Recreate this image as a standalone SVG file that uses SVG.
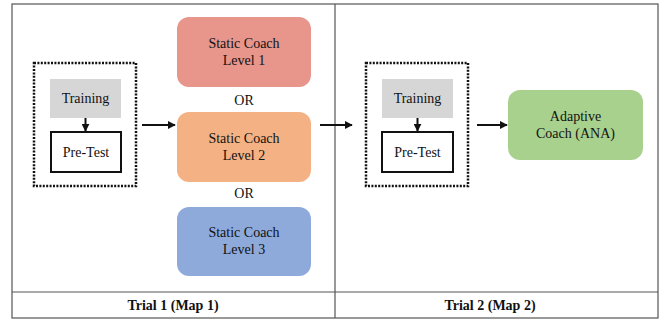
<svg xmlns="http://www.w3.org/2000/svg" width="670" height="320" viewBox="0 0 670 320">
<defs>
<style>
text{font-family:"Liberation Serif",Tinos,"Times New Roman",Times,"Noto Serif","DejaVu Serif",serif;font-size:14px;fill:#111;text-anchor:middle}
.b{font-weight:bold}
.frame{fill:none;stroke:#555;stroke-width:1.2}
.dot{fill:none;stroke:#111;stroke-width:2.5;stroke-dasharray:2 1.4}
.train{fill:#D6D6D6}
.pre{fill:#fff;stroke:#111;stroke-width:2}
.arr{stroke:#111;stroke-width:2;fill:none;marker-end:url(#ah)}
</style>
<marker id="ah" viewBox="0 0 10 10" refX="9" refY="5" markerWidth="4" markerHeight="4" orient="auto" markerUnits="strokeWidth">
<path d="M0,0L10,5L0,10z" fill="#111"/>
</marker>
</defs>
<rect width="670" height="320" fill="#fff"/>
<g id="frame">
<rect class="frame" x="12" y="4" width="646" height="314"/>
<line class="frame" x1="12" y1="292" x2="658" y2="292"/>
<line class="frame" x1="335" y1="4" x2="335" y2="318"/>
<text class="b" x="173" y="310">Trial 1 (Map 1)</text>
<text class="b" x="490" y="310">Trial 2 (Map 2)</text>
</g>
<g id="group1">
<rect class="dot" x="34" y="63" width="102" height="123"/>
</g>
<g id="training1">
<rect class="train" x="50" y="79" width="71" height="39"/>
<text x="85.5" y="103">Training</text>
</g>
<g id="pretest1">
<rect class="pre" x="51" y="132" width="70" height="40"/>
<text x="86" y="157">Pre-Test</text>
</g>
<g id="coach1">
<rect x="177" y="17" width="134" height="70" rx="12" ry="12" fill="#E8958B"/>
<text x="244" y="48">Static Coach</text>
<text x="244" y="65">Level 1</text>
</g>
<g id="or1"><text x="244" y="105">OR</text></g>
<g id="coach2">
<rect x="177" y="112" width="134" height="70" rx="12" ry="12" fill="#F4B183"/>
<text x="244" y="143">Static Coach</text>
<text x="244" y="160">Level 2</text>
</g>
<g id="or2"><text x="244" y="198">OR</text></g>
<g id="coach3">
<rect x="177" y="207" width="134" height="69" rx="12" ry="12" fill="#8EAADB"/>
<text x="244" y="237">Static Coach</text>
<text x="244" y="254">Level 3</text>
</g>
<g id="group2">
<rect class="dot" x="366" y="63" width="102" height="123"/>
</g>
<g id="training2">
<rect class="train" x="382" y="79" width="71" height="39"/>
<text x="417.5" y="103">Training</text>
</g>
<g id="pretest2">
<rect class="pre" x="382" y="132" width="71" height="40"/>
<text x="417.5" y="157">Pre-Test</text>
</g>
<g id="adaptive">
<rect x="508" y="90" width="135" height="70" rx="12" ry="12" fill="#A9D18E"/>
<text x="575.5" y="121">Adaptive</text>
<text x="575.5" y="138">Coach (ANA)</text>
</g>
<g id="connectors">
<line class="arr" x1="85.5" y1="118" x2="85.5" y2="131"/>
<line class="arr" x1="417.5" y1="118" x2="417.5" y2="131"/>
<line class="arr" x1="142" y1="125" x2="175" y2="125"/>
<line class="arr" x1="320" y1="125" x2="352" y2="125"/>
<line class="arr" x1="477" y1="125" x2="507" y2="125"/>
</g>
</svg>
